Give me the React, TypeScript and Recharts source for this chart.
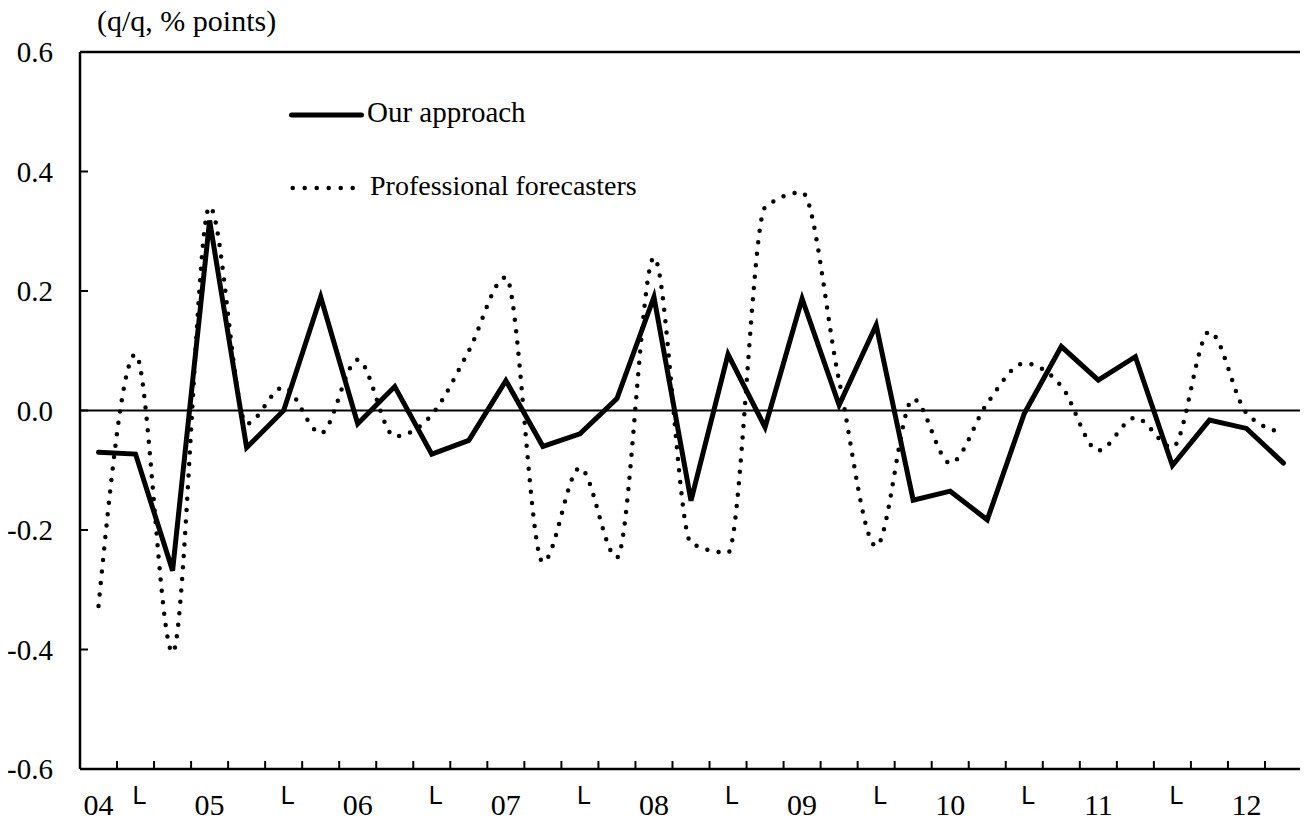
import React from 'react';
import { LineChart, Line, XAxis, YAxis, ReferenceLine, Legend } from 'recharts';

// Quarters from 2004 Q2 to 2012 Q2
const quarters = [
  '04Q2', '04Q3', '04Q4',
  '05Q1', '05Q2', '05Q3', '05Q4',
  '06Q1', '06Q2', '06Q3', '06Q4',
  '07Q1', '07Q2', '07Q3', '07Q4',
  '08Q1', '08Q2', '08Q3', '08Q4',
  '09Q1', '09Q2', '09Q3', '09Q4',
  '10Q1', '10Q2', '10Q3', '10Q4',
  '11Q1', '11Q2', '11Q3', '11Q4',
  '12Q1', '12Q2',
];

const xTickLabels = [
  '04', 'L', '',
  '05', '', 'L', '',
  '06', '', 'L', '',
  '07', '', 'L', '',
  '08', '', 'L', '',
  '09', '', 'L', '',
  '10', '', 'L', '',
  '11', '', 'L', '',
  '12', '',
];

const ourApproach = [
  -0.070, -0.073, -0.268,
  0.318, -0.062, 0.000, 0.190,
  -0.022, 0.040, -0.073, -0.050,
  0.050, -0.060, -0.039, 0.020,
  0.190, -0.151, 0.094, -0.028,
  0.187, 0.009, 0.143, -0.150,
  -0.135, -0.183, -0.005, 0.107,
  0.051, 0.090, -0.092, -0.016,
  -0.030, -0.088,
];

const professionalForecasters = [
  -0.327, 0.094, -0.405,
  0.341, -0.022, 0.039, -0.038,
  0.085, -0.043, -0.007, 0.100,
  0.223, -0.254, -0.096, -0.246,
  0.256, -0.222, -0.238, 0.340,
  0.365, 0.050, -0.227, 0.019,
  -0.088, 0.012, 0.079, 0.041,
  -0.067, -0.012, -0.062, 0.132,
  -0.004, -0.038,
];

const yTicks = [-0.6, -0.4, -0.2, 0, 0.2, 0.4, 0.6];
const seriesNames = ['Our approach', 'Professional forecasters'];
const unitLabel = '(q/q, % points)';

const data = quarters.map((q, i) => ({
  i,
  q,
  our: ourApproach[i],
  pro: professionalForecasters[i],
}));

const xTicks: number[] = [];
for (let k = 0; k < quarters.length; k++) {
  xTicks.push(k);
  if (k < quarters.length - 1) xTicks.push(k + 0.5);
}

const SERIF = '"Liberation Serif", "Times New Roman", serif';
const SANS = '"Liberation Sans", Arial, sans-serif';

const XTick = (props: any) => {
  const { x, y, payload } = props;
  const v = payload.value;
  if (Number.isInteger(v)) {
    const label = xTickLabels[v];
    if (!label) return <g />;
    if (label === 'L') {
      return (
        <text x={x + 4} y={y + 35} textAnchor="middle" fontFamily={SANS} fontSize={25} fill="#000">
          {label}
        </text>
      );
    }
    return (
      <text x={x} y={y + 46} textAnchor="middle" fontFamily={SERIF} fontSize={30} fill="#000">
        {label}
      </text>
    );
  }
  return <line x1={x} x2={x} y1={y} y2={y - 8} stroke="#000" strokeWidth={2} />;
};

const YTick = (props: any) => {
  const { x, y, payload } = props;
  return (
    <g>
      <line x1={x} x2={x + 8} y1={y} y2={y} stroke="#000" strokeWidth={2} />
      <text x={x - 27} y={y} dy="0.35em" textAnchor="end" fontFamily={SERIF} fontSize={29} fill="#000">
        {Number(payload.value).toFixed(1)}
      </text>
    </g>
  );
};

const LegendBox = () => (
  <svg width={420} height={130} style={{ overflow: 'visible' }}>
    <line x1={13.5} x2={83.5} y1={27} y2={27} stroke="#000" strokeWidth={5} strokeLinecap="round" />
    <text x={89} y={34} fontFamily={SERIF} fontSize={29} fill="#000">
      {seriesNames[0]}
    </text>
    <line
      x1={14.7}
      x2={76}
      y1={100}
      y2={100}
      stroke="#000"
      strokeWidth={4.5}
      strokeDasharray="0 12"
      strokeLinecap="round"
    />
    <text x={92} y={107} fontFamily={SERIF} fontSize={28} fill="#000">
      {seriesNames[1]}
    </text>
  </svg>
);

export default function App() {
  return (
    <div style={{ width: 1308, height: 824, background: '#fff', margin: '-8px 0 0 -8px' }}>
      <LineChart
        width={1308}
        height={824}
        data={data}
        margin={{ top: 52, right: 6, bottom: 0, left: 0 }}
      >
        <XAxis
          dataKey="i"
          type="number"
          domain={[-0.5, quarters.length - 0.5]}
          ticks={xTicks}
          interval={0}
          tickSize={0}
          tickMargin={0}
          tickLine={false}
          tick={<XTick />}
          axisLine={{ stroke: '#000', strokeWidth: 2.5 }}
          height={55}
          allowDecimals
        />
        <YAxis
          type="number"
          domain={[-0.6, 0.6]}
          ticks={yTicks}
          interval={0}
          tickSize={0}
          tickMargin={0}
          tickLine={false}
          tick={<YTick />}
          axisLine={{ stroke: '#000', strokeWidth: 2.5 }}
          width={80}
          label={{
            content: () => (
              <text x={97} y={31} fontFamily={SERIF} fontSize={30} fill="#000">
                {unitLabel}
              </text>
            ),
          }}
        />
        <ReferenceLine y={0.6} stroke="#000" strokeWidth={2.5} ifOverflow="visible" />
        <ReferenceLine x={quarters.length - 0.5} stroke="#000" strokeWidth={2.5} ifOverflow="visible" />
        <ReferenceLine y={0} stroke="#000" strokeWidth={2} />
        <Legend
          layout="vertical"
          align="center"
          verticalAlign="middle"
          wrapperStyle={{ left: 278, top: 88, width: 420, height: 130 }}
          content={() => <LegendBox />}
        />
        <Line
          name={seriesNames[1]}
          dataKey="pro"
          type="monotone"
          stroke="#000"
          strokeWidth={4.5}
          strokeDasharray="0 11.5"
          strokeLinecap="round"
          dot={false}
          activeDot={false}
          isAnimationActive={false}
        />
        <Line
          name={seriesNames[0]}
          dataKey="our"
          type="linear"
          stroke="#000"
          strokeWidth={5}
          strokeLinecap="round"
          dot={false}
          activeDot={false}
          isAnimationActive={false}
        />
      </LineChart>
    </div>
  );
}
